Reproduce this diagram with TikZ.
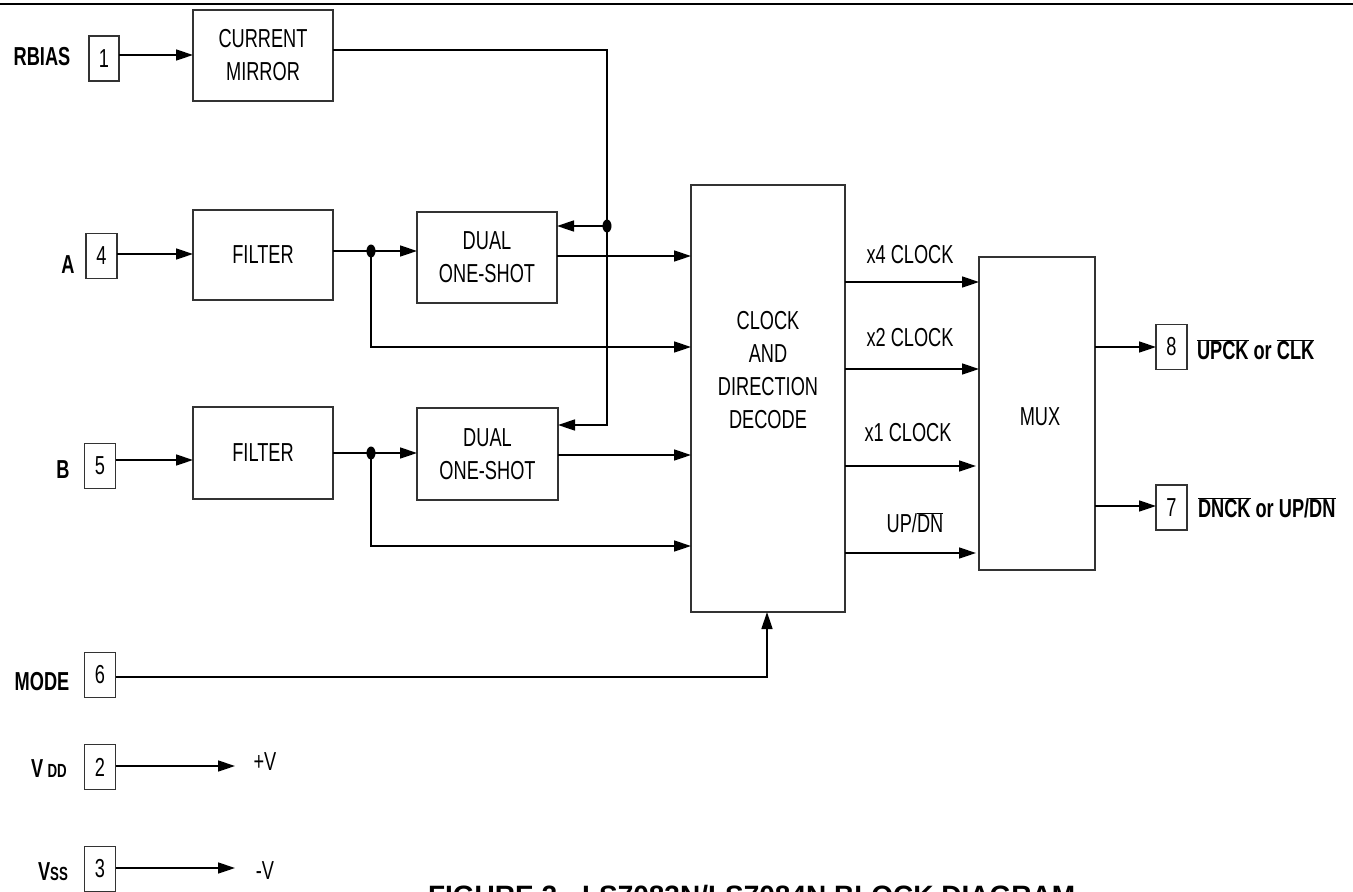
\documentclass[tikz,border=0pt]{standalone}
\usepackage{fontspec}
\setmainfont{Liberation Sans}[FakeStretch=0.7]
\newfontfamily\capfont{Liberation Sans}
\usetikzlibrary{arrows.meta}
\newcommand{\ovl}[1]{$\overline{\mbox{#1}}$}
\begin{document}
\begin{tikzpicture}[x=1pt,y=-1pt,
  every node/.style={font=\fontsize{26}{33}\selectfont, inner sep=0pt, outer sep=0pt},
  blk/.style={draw=black!80, line width=1.4pt, align=center},
  pinbox/.style={draw=black!80, line width=1.4pt, minimum width=31pt, minimum height=45pt},
  plabel/.style={font=\fontsize{26}{33}\selectfont\bfseries},
  wire/.style={line width=1.5pt},
  arr/.style={wire,-{Triangle[length=17pt,width=11pt]}}
]
\useasboundingbox (0,0) rectangle (1353,892);
\clip (0,0) rectangle (1353,892);
\fill[white] (0,0) rectangle (1353,892);
% top rule
\coordinate (tl) at (0,4);
\coordinate (tr) at (1353,4);
\draw[line width=2.5pt] (tl) -- (tr);

% blocks
\node[blk, minimum width=140pt, minimum height=91pt] (cm) at (263,55.5) {CURRENT\\MIRROR};
\node[blk, minimum width=140pt, minimum height=90pt] (filA) at (263,255) {FILTER};
\node[blk, minimum width=140pt, minimum height=92pt] (filB) at (263,453) {FILTER};
\node[blk, minimum width=140pt, minimum height=91pt] (os1) at (487,257.5) {DUAL\\ONE-SHOT};
\node[blk, minimum width=141pt, minimum height=92pt] (os2) at (487.5,454) {DUAL\\ONE-SHOT};
\node[blk, minimum width=154pt, minimum height=427pt] (dec) at (768,398.5) {};
\node (dect) at (768,370) [align=center] {CLOCK\\AND\\DIRECTION\\DECODE};
\node[blk, minimum width=116pt, minimum height=313pt] (mux) at (1037,413.5) {};
\node (muxt) at (1040,417) {MUX};

% pins
\node[pinbox, minimum width=30pt] (pin1) at (104,58.5) {1};
\node[pinbox] (pin4) at (101.5,256) {4};
\node[pinbox] (pin5) at (100,466) {5};
\node[pinbox] (pin6) at (100,675) {6};
\node[pinbox] (pin2) at (100,767) {2};
\node[pinbox] (pin3) at (100,869) {3};
\node[pinbox] (pin8) at (1171.5,347) {8};
\node[pinbox] (pin7) at (1171.5,507.5) {7};

% pin labels
\node[plabel] (lrb) at (42,57) {RBIAS};
\node[plabel] (la) at (68,265) {A};
\node[plabel] (lb) at (63,470) {B};
\node[plabel] (lmode) at (42,682) {MODE};
\node[plabel] (lvdd) at (49,769) {V\,{\fontsize{19}{20}\selectfont DD}};
\node[plabel] (lvss) at (53,872) {V{\fontsize{19}{20}\selectfont SS}};
\node[plabel, anchor=west] (lo8) at (1197,350) {\ovl{UPCK} or \ovl{CLK}};
\node[plabel, anchor=west] (lo7) at (1198,508) {\ovl{DNCK} or UP/\ovl{DN}};

% coordinates
\coordinate (vr) at (607,50);
\coordinate (j1) at (607,226);
\coordinate (vb) at (607,425);
\coordinate (dA) at (371,251);
\coordinate (dB) at (371,453);
\coordinate (mb) at (767,677);
\coordinate (vddend) at (235,766);
\coordinate (vssend) at (235,868);

% current mirror bias
\draw[arr] (pin1.east |- 0,55) -- (cm.west |- 0,55);
\draw[arr] (cm.east |- vr) -- (vr) -- (vb) -- (os2.east |- vb);
\draw[arr] (j1) -- (os1.east |- j1);
\fill (j1) ellipse [x radius=4.5pt, y radius=6.5pt];

% channel A
\draw[arr] (pin4.east |- 0,254) -- (filA.west |- 0,254);
\draw[arr] (filA.east |- dA) -- (os1.west |- dA);
\fill (dA) ellipse [x radius=4.5pt, y radius=6.5pt];
\draw[arr] (dA) -- (dA |- 0,347) -- (dec.west |- 0,347);
\draw[arr] (os1.east |- 0,256) -- (dec.west |- 0,256);

% channel B
\draw[arr] (pin5.east |- 0,460) -- (filB.west |- 0,460);
\draw[arr] (filB.east |- dB) -- (os2.west |- dB);
\fill (dB) ellipse [x radius=4.5pt, y radius=6.5pt];
\draw[arr] (dB) -- (dB |- 0,546) -- (dec.west |- 0,546);
\draw[arr] (os2.east |- 0,455) -- (dec.west |- 0,455);

% mode
\draw[arr] (pin6.east |- mb) -- (mb) -- (dec.south -| mb);

% decode to mux
\draw[arr] (dec.east |- 0,282) -- (mux.west |- 0,282);
\draw[arr] (dec.east |- 0,369) -- (mux.west |- 0,369);
\draw[arr] (dec.east |- 0,466) -- ([xshift=-3pt]mux.west |- 0,466);
\draw[arr] (dec.east |- 0,553) -- ([xshift=-3pt]mux.west |- 0,553);
\node (l4) at (910,255) {x4 CLOCK};
\node (l2) at (910,338) {x2 CLOCK};
\node (l1) at (908,433) {x1 CLOCK};
\node (lud) at (915,523) {UP/\ovl{DN}};

% mux outputs
\draw[arr] (mux.east |- 0,347) -- (pin8.west |- 0,347);
\draw[arr] (mux.east |- 0,506) -- (pin7.west |- 0,506);

% supplies
\draw[arr] (pin2.east |- vddend) -- (vddend);
\node (pv) at (265,762) {+V};
\draw[arr] (pin3.east |- vssend) -- (vssend);
\node (mv) at (265,871) {-V};

% caption (cut by page edge)
\node[anchor=base west, font=\capfont\fontsize{28}{30}\selectfont\bfseries] (cap) at (428,905) {FIGURE 2 - LS7083N/LS7084N BLOCK DIAGRAM};
\end{tikzpicture}
\end{document}
